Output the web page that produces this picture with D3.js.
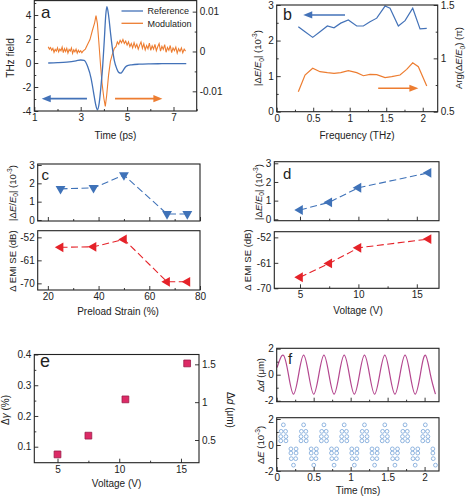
<!DOCTYPE html>
<html><head><meta charset="utf-8">
<script src="https://cdn.jsdelivr.net/npm/d3@7"></script>
<style>body{margin:0;background:#fff}</style>
</head><body>
<script>
// ---------- Panel a ----------
const aRefTime  = [1.6,2.0,2.4,2.8,3.0,3.15,3.3,3.45,3.55,3.65,3.72,3.8,3.88,3.95,4.02,4.08,4.13,4.2,4.28,4.36,4.45,4.55,4.65,4.73,4.82,4.92,5.05,5.2,5.5,6.0,6.5,7.0,7.55];
const aRefField = [0.0,0.03,0.08,0.18,0.25,0.22,-0.3,-1.3,-2.4,-3.5,-3.9,-3.3,-1.8,-0.2,2.0,4.0,4.7,4.0,2.6,1.3,0.2,-0.45,-0.8,-0.85,-0.65,-0.35,-0.2,-0.15,-0.1,-0.07,-0.06,-0.05,-0.05];
// modulation, in units of 1e-3
const aMod = [[1.60,1.2],[1.65,0.6],[1.70,1.0],[1.75,0.3],[1.80,0.8],[1.85,-0.2],[1.90,0.5],[1.95,0.1],[2.00,0.9],[2.05,-0.1],[2.10,0.6],[2.15,0.2],[2.20,1.1],[2.25,-0.3],[2.30,0.7],[2.35,0.0],[2.40,0.8],[2.45,-0.4],[2.50,0.5],[2.55,0.1],[2.60,0.9],[2.65,-0.5],[2.70,0.4],[2.75,-0.1],[2.80,0.6],[2.85,-0.4],[2.90,0.3],[2.95,-0.2],[3.00,0.2],[3.05,-0.3],[3.10,0.1],[3.20,0.6],[3.30,1.8],[3.40,3.0],[3.50,5.2],[3.60,7.2],[3.66,9.0],[3.72,7.0],[3.78,2.5],[3.85,-3.0],[3.92,-8.0],[4.00,-11.8],[4.06,-13.8],[4.12,-11.0],[4.20,-6.0],[4.28,-2.5],[4.36,-0.8],[4.45,0.8],[4.52,1.2],[4.58,2.4],[4.64,1.8],[4.70,2.8],[4.76,2.2],[4.82,3.0],[4.88,2.0],[4.94,2.6],[5.00,1.6],[5.06,2.4],[5.12,1.2],[5.18,2.0],[5.24,0.9],[5.30,2.2],[5.36,1.0],[5.42,1.8],[5.48,0.6],[5.54,1.6],[5.60,2.4],[5.66,0.8],[5.72,1.9],[5.78,0.4],[5.84,1.5],[5.90,0.7],[5.96,2.1],[6.02,0.3],[6.08,1.4],[6.14,0.6],[6.20,1.8],[6.26,0.2],[6.32,1.2],[6.38,2.0],[6.44,0.1],[6.50,1.3],[6.56,0.5],[6.62,1.7],[6.68,-0.2],[6.74,1.0],[6.80,0.3],[6.86,1.5],[6.92,-0.3],[6.98,0.9],[7.04,0.2],[7.10,1.1],[7.16,-0.4],[7.22,0.7],[7.28,0.0],[7.34,0.9],[7.40,-0.3],[7.46,0.6],[7.52,0.1]];
const aXTicks = [1,3,5,7], aXMinor = [2,4,6,8];
const aYTicks = [4,2,0,-2,-4], aYMinor = [3,1,-1,-3,5];
const aRTicks = [10,0,-10], aRLabels = ["0.01","0","-0.01"], aRMinor = [5,-5];
const aLegend = ["Reference","Modulation"];

// ---------- Panel b ----------
const bFreq = [0.296,0.388,0.493,0.593,0.694,0.785,0.877,0.981,1.096,1.187,1.278,1.37,1.484,1.552,1.666,1.758,1.863,1.963,2.055];
const bAmp  = [2.39,2.25,2.09,2.25,2.41,2.36,2.49,2.58,2.41,2.41,2.53,2.63,2.97,2.91,2.41,2.56,2.91,2.33,2.34];
const bArgFreq = [0.296,0.388,0.493,0.593,0.694,0.785,0.877,0.981,1.096,1.187,1.278,1.37,1.484,1.575,1.689,1.78,1.863,1.94,2.055];
const bArg = [0.687,0.844,0.907,0.875,0.866,0.86,0.866,0.884,0.866,0.837,0.85,0.847,0.819,0.828,0.844,0.897,0.959,0.922,0.741];
const bXTicks = [0,0.5,1,1.5,2], bXLabels = ["0","0.5","1","1.5","2"], bXMinor = [0.25,0.75,1.25,1.75];
const bYTicks = [0,1,2,3], bYMinor = [0.5,1.5,2.5];
const bRTicks = [0.5,1,1.5], bRLabels = ["0.5","1","1.5"], bRMinor = [0.75,1.25];

// ---------- Panel c ----------
const cStrain = [25,38,50,67,75];
const cAmp    = [1.7,1.75,2.45,0.33,0.33];
const cEmi    = [-55.9,-55.7,-52.8,-69.4,-69.4];
const cXTicks = [20,40,60,80], cXMinor = [30,50,70];
const cYTicks = [0,1,2,3];
const cETicks = [-52,-61,-70];

// ---------- Panel d ----------
const dVolt = [5,7.5,10,16];
const dAmp  = [0.5,0.91,1.69,2.49];
const dEmi  = [-66.1,-61.2,-55.7,-52.6];
const dXTicks = [5,10,15], dXMinor = [7.5,12.5];

// ---------- Panel e ----------
const eVolt  = [5,7.5,10.5,15.5];
const eGamma = [0.075,0.136,0.254,0.371];
const eYTicks = [0.1,0.2,0.3,0.4], eYLabels = ["0.1","0.2","0.3","0.4"], eYMinor = [0.15,0.25,0.35];
const eRTicks = [0.5,1,1.5], eRLabels = ["0.5","1","1.5"];
const eXTicks = [5,10,15], eXMinor = [7.5,12.5];

// ---------- Panel f ----------
const fSine = [[0.005,0.55],[0.090,1.5],[0.159,0],[0.227,-1.5],[0.296,0],[0.364,1.5],[0.433,0],[0.501,-1.5],[0.570,0],[0.639,1.5],[0.707,0],[0.776,-1.5],[0.844,0],[0.913,1.5],[0.982,0],[1.050,-1.5],[1.119,0],[1.187,1.5],[1.256,0],[1.324,-1.5],[1.393,0],[1.462,1.5],[1.530,0],[1.599,-1.5],[1.667,0],[1.736,1.5],[1.805,0],[1.873,-1.5],[1.942,0],[2.010,1.5],[2.079,0],[2.147,-1.5]];
const fDots = [
[0.090,1.55],[0.060,1.05],[0.120,1.05],[0.055,0.65],[0.055,0.32],[0.125,0.65],[0.125,0.32],
[0.227,-1.55],[0.197,-1.05],[0.257,-1.05],[0.192,-0.3],[0.192,-0.62],[0.262,-0.3],[0.262,-0.62],
[0.364,1.55],[0.334,1.05],[0.394,1.05],[0.329,0.65],[0.329,0.32],[0.399,0.65],[0.399,0.32],
[0.501,-1.55],[0.471,-1.05],[0.531,-1.05],[0.466,-0.3],[0.466,-0.62],[0.536,-0.3],[0.536,-0.62],
[0.639,1.55],[0.609,1.05],[0.669,1.05],[0.604,0.65],[0.604,0.32],[0.674,0.65],[0.674,0.32],
[0.776,-1.55],[0.746,-1.05],[0.806,-1.05],[0.741,-0.3],[0.741,-0.62],[0.811,-0.3],[0.811,-0.62],
[0.913,1.55],[0.883,1.05],[0.943,1.05],[0.878,0.65],[0.878,0.32],[0.948,0.65],[0.948,0.32],
[1.050,-1.55],[1.020,-1.05],[1.080,-1.05],[1.015,-0.3],[1.015,-0.62],[1.085,-0.3],[1.085,-0.62],
[1.187,1.55],[1.157,1.05],[1.217,1.05],[1.152,0.65],[1.152,0.32],[1.222,0.65],[1.222,0.32],
[1.324,-1.55],[1.294,-1.05],[1.354,-1.05],[1.289,-0.3],[1.289,-0.62],[1.359,-0.3],[1.359,-0.62],
[1.462,1.55],[1.432,1.05],[1.492,1.05],[1.427,0.65],[1.427,0.32],[1.497,0.65],[1.497,0.32],
[1.599,-1.55],[1.569,-1.05],[1.629,-1.05],[1.564,-0.3],[1.564,-0.62],[1.634,-0.3],[1.634,-0.62],
[1.736,1.55],[1.706,1.05],[1.766,1.05],[1.701,0.65],[1.701,0.32],[1.771,0.65],[1.771,0.32],
[1.873,-1.55],[1.843,-1.05],[1.903,-1.05],[1.838,-0.3],[1.838,-0.62],[1.908,-0.3],[1.908,-0.62],
[2.010,1.55],[1.980,1.05],[2.040,1.05],[1.975,0.65],[1.975,0.32],[2.045,0.65],[2.045,0.32],
[2.147,-1.55],[2.117,-1.05],[2.112,-0.3],[2.112,-0.62]];
const fYTicks = [2,0,-2], fYMinor = [1,-1];
const fXTicks = [0,0.5,1,1.5,2], fXLabels = ["0","0.5","1","1.5","2"], fXMinor = [0.25,0.75,1.25,1.75];

// ---------- drawing ----------
const FONT = "'Liberation Sans', Arial, Helvetica, sans-serif";
const INK = "#222";
const BLUE = "#4372b8", ORANGE = "#ed7d31", RED = "#e52229", TRI_BLUE = "#3f72b8";
const PURPLE = "#b4478f", DOT = "#76a3d8", SQ = "#dd2a66";

const svg = d3.select("body").append("svg").attr("width",469).attr("height",500)
  .attr("font-family",FONT);

function frame(x0,y0,x1,y1){
  svg.append("rect").attr("x",x0).attr("y",y0).attr("width",x1-x0).attr("height",y1-y0)
    .attr("fill","none").attr("stroke",INK).attr("stroke-width",1.1);
}
function axis(kind, scale, at, majors, labels, minors){
  const mk = {bottom:d3.axisBottom,left:d3.axisLeft,right:d3.axisRight,top:d3.axisTop}[kind];
  const tr = (kind==="bottom"||kind==="top") ? `translate(0,${at})` : `translate(${at},0)`;
  const g = svg.append("g").attr("transform",tr);
  g.call(mk(scale).tickValues(majors).tickSize(-4).tickPadding(3)
    .tickFormat((d,i)=> labels===null ? "" : (labels ? labels[i] : String(d))));
  if (minors) g.append("g").call(mk(scale).tickValues(minors).tickSize(-2).tickFormat(""));
  g.selectAll(".domain").remove();
  g.attr("font-family",FONT).attr("font-size",10);
  g.selectAll("g").attr("font-family",FONT);
  g.selectAll("line").attr("stroke",INK).attr("stroke-width",0.9);
  g.selectAll("text").attr("fill",INK).attr("font-size",10);
  return g;
}
function text(x,y,s,size,anchor,rot){
  return svg.append("text").attr("transform",`translate(${x},${y}) rotate(${rot||0})`)
    .attr("text-anchor",anchor||"middle").attr("font-size",size).attr("fill",INK).text(s);
}
function rich(x,y,rot,parts,size){
  const t = svg.append("text").attr("transform",`translate(${x},${y}) rotate(${rot})`)
    .attr("text-anchor","middle").attr("font-size",size).attr("fill",INK);
  let shift = 0;
  parts.forEach(p=>{
    const [s,st] = Array.isArray(p) ? p : [p,""];
    const ts = t.append("tspan").text(s);
    const target = st==="sub" ? size*0.3 : st==="sup" ? -size*0.4 : 0;
    if (target!==shift){ ts.attr("dy",target-shift); shift = target; }
    if (st==="sub"||st==="sup") ts.attr("font-size",size*0.7);
    if (st==="i") ts.attr("font-style","italic");
  });
  return t;
}
function arrow(x1,x2,y,color){
  const dir = x2>x1 ? 1 : -1;
  svg.append("line").attr("x1",x1).attr("x2",x2-dir*6).attr("y1",y).attr("y2",y)
    .attr("stroke",color).attr("stroke-width",1.6);
  svg.append("path").attr("d",`M${x2},${y}L${x2-dir*9},${y-3.6}L${x2-dir*9},${y+3.6}Z`).attr("fill",color);
}
const absLabel = [["|Δ",""],["E","i"],["/",""],["E","i"],["0","sub"],["| (10",""],["-3","sup"],[")",""]];

// ===== Panel a =====
{
  const x = d3.scaleLinear().domain([1,8]).range([34.3,196.7]);
  const yL = d3.scaleLinear().domain([-4,5.2]).range([111,0.6]);
  const yR = d3.scaleLinear().domain([-14.94,12.77]).range([111,0.6]);
  svg.append("path").datum(aMod.map(d=>d))
    .attr("d", d3.line().x(d=>x(d[0])).y(d=>yR(d[1])))
    .attr("fill","none").attr("stroke",ORANGE).attr("stroke-width",1.1);
  svg.append("path").datum(aRefTime.map((t,i)=>[t,aRefField[i]]))
    .attr("d", d3.line().x(d=>x(d[0])).y(d=>yL(d[1])).curve(d3.curveMonotoneX))
    .attr("fill","none").attr("stroke",BLUE).attr("stroke-width",1.3);
  frame(34.3,0.6,196.7,111);
  axis("bottom",x,111,aXTicks,undefined,aXMinor);
  axis("left",yL,34.3,aYTicks,undefined,aYMinor);
  axis("right",yR,196.7,aRTicks,aRLabels,aRMinor);
  [BLUE,ORANGE].forEach((c,i)=>{
    svg.append("line").attr("x1",121.5).attr("x2",143).attr("y1",11+i*12.3).attr("y2",11+i*12.3)
      .attr("stroke",c).attr("stroke-width",1.3);
    text(147.5,14.2+i*12.3,aLegend[i],9,"start");
  });
  arrow(x(3.27),x(1.32),yL(-2.97),BLUE);
  arrow(x(4.48),x(6.52),yL(-2.97),ORANGE);
  text(41,18,"a",17,"start");
  text(13.5,58,"THz field",10,"middle",-90);
  text(115.5,138.5,"Time (ps)",10,"middle");
}

// ===== Panel b =====
{
  const x = d3.scaleLinear().domain([0,2.205]).range([276.7,437.7]);
  const yL = d3.scaleLinear().domain([0,3]).range([111.7,5]);
  const yR = d3.scaleLinear().domain([0.5,1.5]).range([111.7,5]);
  svg.append("path").datum(bFreq.map((f,i)=>[f,bAmp[i]]))
    .attr("d", d3.line().x(d=>x(d[0])).y(d=>yL(d[1])))
    .attr("fill","none").attr("stroke",BLUE).attr("stroke-width",1.2);
  svg.append("path").datum(bArgFreq.map((f,i)=>[f,bArg[i]]))
    .attr("d", d3.line().x(d=>x(d[0])).y(d=>yR(d[1])))
    .attr("fill","none").attr("stroke",ORANGE).attr("stroke-width",1.2);
  frame(276.7,5,437.7,111.7);
  axis("bottom",x,111.7,bXTicks,bXLabels,bXMinor);
  axis("left",yL,276.7,bYTicks,undefined,bYMinor);
  axis("right",yR,437.7,bRTicks,bRLabels,bRMinor);
  arrow(x(0.936),x(0.364),yL(2.72),BLUE);
  arrow(x(1.39),x(1.94),yR(0.72),ORANGE);
  text(283,20,"b",16,"start");
  rich(261,58,-90,absLabel,9.5);
  rich(462,58,-90,[["Arg(Δ",""],["E","i"],["/",""],["E","i"],["0","sub"],[") (π)",""]],9.5);
  text(357,138.5,"Frequency (THz)",10,"middle");
}

// ===== Panel c =====
{
  const x = d3.scaleLinear().domain([16,80]).range([37.7,200]);
  const yT = d3.scaleLinear().domain([-0.055,3.055]).range([221,164]);
  const yB = d3.scaleLinear().domain([-72.6,-49.4]).range([290,230.7]);
  const triDown = d3.symbol().type(d3.symbolTriangle).size(42);
  svg.append("path").datum(cStrain.map((s,i)=>[s,cAmp[i]]))
    .attr("d", d3.line().x(d=>x(d[0])).y(d=>yT(d[1])))
    .attr("fill","none").attr("stroke",TRI_BLUE).attr("stroke-width",1.1).attr("stroke-dasharray","7,3.5");
  svg.selectAll(null).data(cStrain.map((s,i)=>[s,cAmp[i]])).enter().append("path")
    .attr("d",triDown).attr("transform",d=>`translate(${x(d[0])},${yT(d[1])}) rotate(180)`).attr("fill",TRI_BLUE);
  svg.append("path").datum(cStrain.map((s,i)=>[s,cEmi[i]]))
    .attr("d", d3.line().x(d=>x(d[0])).y(d=>yB(d[1])))
    .attr("fill","none").attr("stroke",RED).attr("stroke-width",1.1).attr("stroke-dasharray","7,3.5");
  svg.selectAll(null).data(cStrain.map((s,i)=>[s,cEmi[i]])).enter().append("path")
    .attr("d",triDown).attr("transform",d=>`translate(${x(d[0])},${yB(d[1])}) rotate(-90)`).attr("fill",RED);
  frame(37.7,164,200,221);
  frame(37.7,230.7,200,290);
  axis("bottom",x,221,cXTicks,null,cXMinor);
  axis("left",yT,37.7,cYTicks,undefined,null);
  axis("bottom",x,290,cXTicks,undefined,cXMinor);
  axis("left",yB,37.7,cETicks,undefined,null);
  text(41.5,180,"c",15,"start");
  rich(15.5,193,-90,absLabel,9.5);
  text(15.5,261,"Δ EMI SE (dB)",9.5,"middle",-90);
  text(118,315,"Preload Strain (%)",10,"middle");
}

// ===== Panel d =====
{
  const x = d3.scaleLinear().domain([2.8,16.9]).range([274.3,439]);
  const yT = d3.scaleLinear().domain([-0.075,3.086]).range([220.7,161.7]);
  const yB = d3.scaleLinear().domain([-70,-50]).range([288.3,231.7]);
  const tri = d3.symbol().type(d3.symbolTriangle).size(42);
  [[dAmp,yT,TRI_BLUE],[dEmi,yB,RED]].forEach(([vals,y,c])=>{
    const pts = dVolt.map((v,i)=>[v,vals[i]]);
    svg.append("path").datum(pts)
      .attr("d", d3.line().x(d=>x(d[0])).y(d=>y(d[1])))
      .attr("fill","none").attr("stroke",c).attr("stroke-width",1.1).attr("stroke-dasharray","7,3.5");
    svg.selectAll(null).data(pts).enter().append("path")
      .attr("d",tri).attr("transform",d=>`translate(${x(d[0])},${y(d[1])}) rotate(-90)`).attr("fill",c);
  });
  frame(274.3,161.7,439,220.7);
  frame(274.3,231.7,439,288.3);
  axis("bottom",x,220.7,dXTicks,null,dXMinor);
  axis("left",yT,274.3,cYTicks,undefined,null);
  axis("bottom",x,288.3,dXTicks,undefined,dXMinor);
  axis("left",yB,274.3,cETicks,undefined,null);
  text(283,179,"d",15,"start");
  rich(261.5,192,-90,absLabel,9.5);
  text(251,260,"Δ EMI SE (dB)",9.5,"middle",-90);
  text(358,314,"Voltage (V)",10,"middle");
}

// ===== Panel e =====
{
  const x = d3.scaleLinear().domain([3.12,16.46]).range([34.3,199]);
  const yL = d3.scaleLinear().domain([0.048,0.4]).range([462.7,354.5]);
  const yR = d3.scaleLinear().domain([0.2,1.63]).range([462.7,354.5]);
  const sq = d3.symbol().type(d3.symbolSquare).size(46);
  svg.selectAll(null).data(eVolt.map((v,i)=>[v,eGamma[i]])).enter().append("path")
    .attr("d",sq).attr("transform",d=>`translate(${x(d[0])},${yL(d[1])})`)
    .attr("fill",SQ).attr("stroke","#9b1d4a").attr("stroke-width",0.8);
  frame(34.3,354.5,199,462.7);
  axis("bottom",x,462.7,eXTicks,undefined,eXMinor);
  axis("left",yL,34.3,eYTicks,eYLabels,eYMinor);
  axis("right",yR,199,eRTicks,eRLabels,null);
  text(40,367,"e",18,"start");
  rich(9,410,-90,[["Δ",""],["γ","i"],[" (%)",""]],10);
  rich(227,410,90,[["Δ",""],["d","i"],[" (μm)",""]],10);
  text(116.5,487,"Voltage (V)",10,"middle");
}

// ===== Panel f =====
{
  const x = d3.scaleLinear().domain([0,2.195]).range([276.7,439]);
  const yT = d3.scaleLinear().domain([-2.077,2.03]).range([401.7,348.3]);
  const yB = d3.scaleLinear().domain([-2,2.1]).range([471,417.7]);
  svg.append("path").datum(fSine)
    .attr("d", d3.line().x(d=>x(d[0])).y(d=>yT(d[1])).curve(d3.curveNatural))
    .attr("fill","none").attr("stroke",PURPLE).attr("stroke-width",1.2);
  svg.selectAll(null).data(fDots).enter().append("circle")
    .attr("cx",d=>x(d[0])).attr("cy",d=>yB(d[1])).attr("r",1.9)
    .attr("fill","none").attr("stroke",DOT).attr("stroke-width",0.8);
  frame(276.7,348.3,439,401.7);
  frame(276.7,417.7,439,471);
  axis("bottom",x,401.7,fXTicks,null,fXMinor);
  axis("left",yT,276.7,fYTicks,undefined,fYMinor);
  axis("bottom",x,471,fXTicks,fXLabels,fXMinor);
  axis("left",yB,276.7,fYTicks,undefined,fYMinor);
  text(288,364,"f",15,"start");
  rich(263.5,375,-90,[["Δ",""],["d","i"],[" (μm)",""]],9.5);
  rich(263.5,445,-90,[["Δ",""],["E","i"],[" (10",""],["-3","sup"],[")",""]],9.5);
  text(358,494,"Time (ms)",10,"middle");
}
</script>
</body></html>
